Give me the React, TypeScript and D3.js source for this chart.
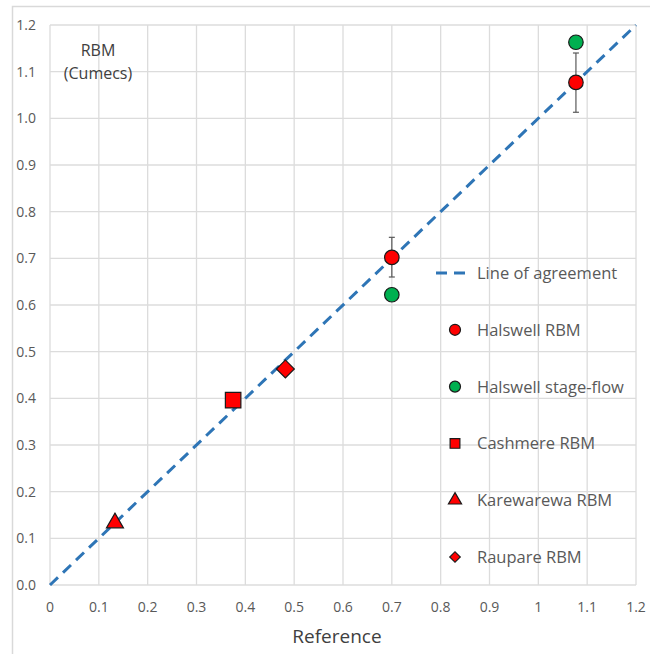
import React, { useEffect, useRef } from 'react';
import * as d3 from 'd3';

// values
const agreementX = [0, 1.2];
const halswellRbm = [
  { x: 0.70, y: 0.702, lo: 0.66, hi: 0.745 },
  { x: 1.077, y: 1.077, lo: 1.013, hi: 1.14 },
];
const halswellStage = [
  { x: 0.70, y: 0.622 },
  { x: 1.077, y: 1.163 },
];
const cashmere = [{ x: 0.375, y: 0.396 }];
const karewarewa = [{ x: 0.133, y: 0.133 }];
const raupare = [{ x: 0.482, y: 0.463 }];
const xTicks = [0, 0.1, 0.2, 0.3, 0.4, 0.5, 0.6, 0.7, 0.8, 0.9, 1, 1.1, 1.2];
const xTickLabels = ['0', '0.1', '0.2', '0.3', '0.4', '0.5', '0.6', '0.7', '0.8', '0.9', '1', '1.1', '1.2'];
const yTicks = [0, 0.1, 0.2, 0.3, 0.4, 0.5, 0.6, 0.7, 0.8, 0.9, 1.0, 1.1, 1.2];
const legendItems = [
  { label: 'Line of agreement', kind: 'line', fill: '' },
  { label: 'Halswell RBM', kind: 'circle', fill: '#FF0000' },
  { label: 'Halswell stage-flow', kind: 'circle', fill: '#00B050' },
  { label: 'Cashmere RBM', kind: 'square', fill: '#FF0000' },
  { label: 'Karewarewa RBM', kind: 'triangle', fill: '#FF0000' },
  { label: 'Raupare RBM', kind: 'diamond', fill: '#FF0000' },
];

const FONT = "'Open Sans', 'Noto Sans', sans-serif";

export default function App() {
  const ref = useRef<SVGSVGElement>(null);

  useEffect(() => {
    const width = 650;
    const height = 654;
    const svg = d3.select(ref.current).attr('width', width).attr('height', height);
    svg.selectAll('*').remove();

    svg.append('rect').attr('width', width).attr('height', height).attr('fill', '#fff');
    // chart frame
    svg.append('path')
      .attr('d', `M12.5,${height}V6.5H${width}`)
      .attr('fill', 'none').attr('stroke', '#d9d9d9').attr('stroke-width', 1.5);

    const x = d3.scaleLinear().domain([0, 1.2]).range([50, 636]);
    const y = d3.scaleLinear().domain([0, 1.2]).range([585, 25]);

    const grid = svg.append('g').attr('stroke', '#dcdcdc').attr('stroke-width', 1.3);
    grid.selectAll('.gx').data(xTicks).join('line')
      .attr('x1', d => x(d)).attr('x2', d => x(d)).attr('y1', y(0)).attr('y2', y(1.2));
    grid.selectAll('.gy').data(yTicks).join('line')
      .attr('x1', x(0)).attr('x2', x(1.2)).attr('y1', d => y(d)).attr('y2', d => y(d));

    // tick labels
    svg.append('g').selectAll('text').data(xTicks).join('text')
      .attr('x', d => x(d)).attr('y', 612)
      .attr('text-anchor', 'middle')
      .attr('font-family', FONT).attr('font-size', 14).attr('fill', '#595959')
      .text((d, i) => xTickLabels[i]);
    svg.append('g').selectAll('text').data(yTicks).join('text')
      .attr('x', 36).attr('y', d => y(d) + 5)
      .attr('text-anchor', 'end')
      .attr('font-family', FONT).attr('font-size', 14).attr('fill', '#595959')
      .text(d => d3.format('.1f')(d));

    svg.append('text')
      .attr('x', 337).attr('y', 643).attr('text-anchor', 'middle')
      .attr('font-family', FONT).attr('font-size', 19).attr('fill', '#404040')
      .text('Reference');
    svg.append('text')
      .attr('x', 98).attr('y', 56).attr('text-anchor', 'middle')
      .attr('font-family', FONT).attr('font-size', 16).attr('fill', '#404040')
      .text('RBM');
    svg.append('text')
      .attr('x', 98).attr('y', 79).attr('text-anchor', 'middle')
      .attr('font-family', FONT).attr('font-size', 16).attr('fill', '#404040')
      .text('(Cumecs)');

    // line of agreement
    const line = d3.line<number>().x(d => x(d)).y(d => y(d));
    svg.append('path')
      .datum(agreementX)
      .attr('d', line)
      .attr('fill', 'none').attr('stroke', '#2E75B6').attr('stroke-width', 3)
      .attr('stroke-dasharray', '11,7');

    // error bars
    const eb = svg.append('g').attr('stroke', '#595959').attr('stroke-width', 1.2);
    halswellRbm.forEach(d => {
      eb.append('line').attr('x1', x(d.x)).attr('x2', x(d.x)).attr('y1', y(d.lo)).attr('y2', y(d.hi));
      [d.lo, d.hi].forEach(v => {
        eb.append('line').attr('x1', x(d.x) - 3).attr('x2', x(d.x) + 3).attr('y1', y(v)).attr('y2', y(v));
      });
    });

    const sym = (kind: string, size: number) => {
      const t = kind === 'circle' ? d3.symbolCircle
        : kind === 'triangle' ? d3.symbolTriangle
        : d3.symbolSquare;
      return d3.symbol().type(t).size(size)();
    };
    const rot = (kind: string) => (kind === 'diamond' ? ' rotate(45)' : '');

    const drawPoints = (data: { x: number; y: number }[], kind: string, fill: string, size: number) => {
      svg.append('g').selectAll('path').data(data).join('path')
        .attr('d', sym(kind, size))
        .attr('transform', d => `translate(${x(d.x)},${y(d.y)})${rot(kind)}`)
        .attr('fill', fill).attr('stroke', '#1a1a1a').attr('stroke-width', 1.2);
    };
    drawPoints(halswellStage, 'circle', '#00B050', 165);
    drawPoints(halswellRbm, 'circle', '#FF0000', 165);
    drawPoints(cashmere, 'square', '#FF0000', 240);
    drawPoints(karewarewa, 'triangle', '#FF0000', 125);
    drawPoints(raupare, 'diamond', '#FF0000', 160);

    // legend
    const legendY = d3.scalePoint<string>()
      .domain(legendItems.map(d => d.label))
      .range([273, 557]);
    const lg = svg.append('g');
    legendItems.forEach(item => {
      const ly = legendY(item.label) as number;
      if (item.kind === 'line') {
        lg.append('line').attr('x1', 436).attr('x2', 470).attr('y1', ly).attr('y2', ly)
          .attr('stroke', '#2E75B6').attr('stroke-width', 3).attr('stroke-dasharray', '11,7');
      } else {
        const s = item.kind === 'circle' ? 95 : item.kind === 'triangle' ? 75 : item.kind === 'diamond' ? 55 : 95;
        lg.append('path').attr('d', sym(item.kind, s))
          .attr('transform', `translate(455,${ly})${rot(item.kind)}`)
          .attr('fill', item.fill).attr('stroke', '#1a1a1a').attr('stroke-width', 1.2);
      }
      lg.append('text').attr('x', 477).attr('y', ly + 6)
        .attr('font-family', FONT).attr('font-size', 16.5).attr('fill', '#595959')
        .text(item.label);
    });
  }, []);

  return <svg ref={ref} style={{ display: 'block', position: 'absolute', left: 0, top: 0 }} />;
}
